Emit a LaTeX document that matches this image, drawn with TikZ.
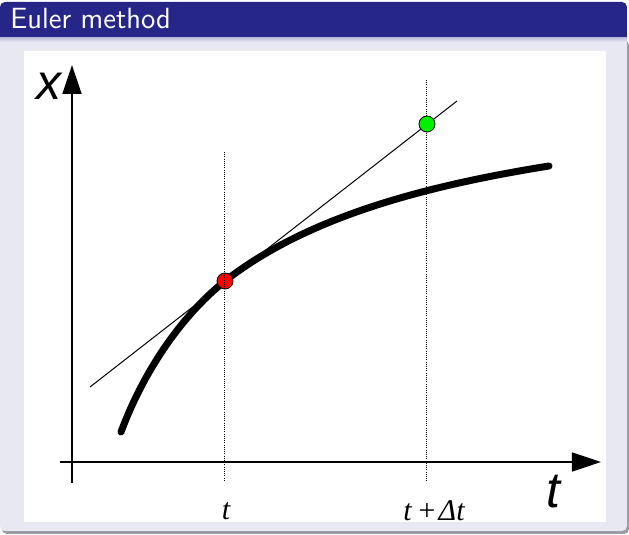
\documentclass[tikz,border=0pt]{standalone}
\usepackage{fontspec}
\newfontfamily\axisfont{Liberation Sans}
\newfontfamily\tickfont{Liberation Serif}
\usetikzlibrary{arrows.meta}
\definecolor{TitleBg}{HTML}{262688}
\definecolor{TitleShade}{HTML}{B8B8D6}
\definecolor{BodyBg}{HTML}{E8E8F3}
\definecolor{ShadowGray}{HTML}{9C9CA4}
\definecolor{DotRed}{HTML}{FF0000}
\definecolor{DotGreen}{HTML}{00F000}

\begin{document}
\begin{tikzpicture}[
            x=0.5pt, y=-0.5pt,
            axis/.style={line width=0.8pt, -{Triangle[length=14.5pt, width=9.5pt]}},
            curve/.style={line width=3.5pt, line cap=round},
            tangent/.style={line width=0.5pt},
            guide/.style={line width=0.5pt, dash pattern=on 0.5pt off 0.6pt},
            dot/.style={circle, draw=black, line width=0.4pt, minimum size=8pt, inner sep=0pt},
            axislabel/.style={inner sep=0pt, font=\axisfont\itshape\fontsize{25}{25}\selectfont},
            ticklabel/.style={inner sep=0pt, font=\tickfont\itshape\fontsize{15}{15}\selectfont}
        ]
            \useasboundingbox[fill=white] (0,0) rectangle (629,535);

            % Block frame
            \fill[ShadowGray, rounded corners=2.5pt] (2,40) rectangle (629,534);
            \fill[BodyBg] (0,37) -- (627,37) [rounded corners=2.5pt] -- (627,531) -- (0,531) [sharp corners] -- cycle;
            \shade[top color=TitleShade, bottom color=BodyBg] (0,37) rectangle (627,42);
            \fill[TitleBg] (0,37) [rounded corners=2.5pt] -- (0,2) -- (627,2) [sharp corners] -- (627,37) -- cycle;
            \node[anchor=base west, inner sep=0pt, text=white, font=\sffamily\fontsize{14.6}{14.6}\selectfont] (title) at (10,29) {Euler method};
            \fill[white] (24,51) rectangle (606,522);

            % Axes
            \coordinate (yfoot) at (72,483);
            \coordinate (ytip) at (72,65);
            \coordinate (xfoot) at (60,462);
            \coordinate (xtip) at (601,462);
            \draw[axis] (yfoot) -- (ytip);
            \draw[axis] (xfoot) -- (xtip);
            \node[axislabel] (xlab) at (49,86) {x};
            \node[axislabel] (tlab) at (553,492) {t};

            % Solution curve and Euler step
            \coordinate (curvestart) at (121,432);
            \coordinate (curvemid) at (225,281);
            \coordinate (curveend) at (549,166);
            \draw[curve] (curvestart) .. controls (143,373) and (180,317) .. (curvemid)
                .. controls (305,218.6) and (419,186.8) .. (curveend);
            \coordinate (tanlow) at (90,387);
            \coordinate (tanhigh) at (457,101);
            \draw[tangent] (tanlow) -- (tanhigh);
            \node[dot, fill=DotRed] (xnow) at (curvemid) {};

            \coordinate (guidetop1) at (225,152);
            \coordinate (guidebot1) at (225,481);
            \coordinate (guidetop2) at (427,80);
            \coordinate (guidebot2) at (427,481);
            \draw[guide] (guidetop1) -- (guidebot1);
            \draw[guide] (guidetop2) -- (guidebot2);
            \node[dot, fill=DotGreen] (xnext) at (427,124) {};

            \node[ticklabel] (ticknow) at (226,511) {t};
            \node[ticklabel] (ticknext) at (434,511) {t\,+\hspace{0.06em}Δt};
        \end{tikzpicture}
\end{document}
